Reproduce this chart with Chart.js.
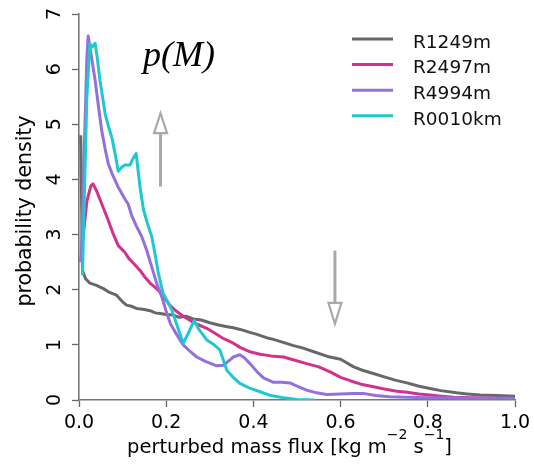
<!DOCTYPE html>
<html>
<head>
<meta charset="utf-8">
<script src="https://cdn.jsdelivr.net/npm/chart.js@4/dist/chart.umd.min.js"></script>
<style>
  body { margin: 0; background: #fff; }
  #wrap { width: 534px; height: 464px; }
</style>
</head>
<body>
<div id="wrap"><canvas id="pdf" width="534" height="464"></canvas></div>
<script>
const seriesNames = ["R1249m", "R2497m", "R4994m", "R0010km"];
const seriesColors = ["#686868", "#d4318f", "#9370db", "#1fc8cf"];

const xTickValues = [0, 0.2, 0.4, 0.6, 0.8, 1.0];
const yTickValues = [0, 1, 2, 3, 4, 5, 6, 7];

const r1249x = [0.004, 0.008, 0.015, 0.025, 0.04, 0.056, 0.07, 0.086, 0.1, 0.109, 0.12, 0.132, 0.15, 0.163, 0.175, 0.186, 0.2, 0.216, 0.23, 0.245, 0.262, 0.28, 0.3, 0.32, 0.34, 0.354, 0.37, 0.39, 0.408, 0.43, 0.446, 0.47, 0.49, 0.514, 0.54, 0.57, 0.6, 0.63, 0.65, 0.675, 0.7, 0.725, 0.752, 0.78, 0.805, 0.83, 0.866, 0.89, 0.92, 0.96, 1.0];
const r1249y = [4.8, 2.35, 2.2, 2.12, 2.08, 2.02, 1.95, 1.9, 1.78, 1.72, 1.7, 1.66, 1.64, 1.62, 1.58, 1.57, 1.55, 1.54, 1.5, 1.52, 1.47, 1.45, 1.4, 1.36, 1.33, 1.31, 1.28, 1.23, 1.19, 1.13, 1.1, 1.04, 0.99, 0.94, 0.87, 0.79, 0.74, 0.6, 0.54, 0.48, 0.42, 0.36, 0.31, 0.25, 0.21, 0.17, 0.13, 0.11, 0.09, 0.08, 0.07];

const r2497x = [0.004, 0.01, 0.018, 0.027, 0.032, 0.04, 0.052, 0.06, 0.067, 0.078, 0.09, 0.105, 0.115, 0.125, 0.14, 0.151, 0.163, 0.172, 0.182, 0.195, 0.209, 0.225, 0.239, 0.26, 0.275, 0.293, 0.31, 0.33, 0.354, 0.37, 0.39, 0.415, 0.44, 0.469, 0.495, 0.522, 0.55, 0.576, 0.6, 0.622, 0.65, 0.675, 0.7, 0.729, 0.752, 0.78, 0.805, 0.83, 0.86, 0.9, 0.95, 1.0];
const r2497y = [2.5, 3.0, 3.6, 3.88, 3.92, 3.8, 3.56, 3.4, 3.26, 3.02, 2.8, 2.68, 2.56, 2.48, 2.35, 2.23, 2.12, 2.06, 1.99, 1.86, 1.71, 1.6, 1.52, 1.42, 1.36, 1.3, 1.22, 1.12, 1.03, 0.95, 0.88, 0.83, 0.8, 0.78, 0.72, 0.66, 0.6, 0.51, 0.41, 0.35, 0.28, 0.24, 0.2, 0.16, 0.14, 0.11, 0.09, 0.07, 0.05, 0.04, 0.03, 0.02];

const r4994x = [0.005, 0.012, 0.018, 0.021, 0.028, 0.037, 0.045, 0.052, 0.06, 0.067, 0.075, 0.09, 0.105, 0.113, 0.121, 0.132, 0.144, 0.155, 0.167, 0.178, 0.19, 0.201, 0.21, 0.22, 0.239, 0.255, 0.27, 0.29, 0.316, 0.331, 0.345, 0.354, 0.369, 0.38, 0.392, 0.41, 0.423, 0.446, 0.465, 0.484, 0.5, 0.522, 0.545, 0.568, 0.6, 0.63, 0.652, 0.68, 0.713, 0.75, 0.8, 0.85, 0.9, 0.95, 1.0];
const r4994y = [2.5, 4.5, 6.2, 6.6, 6.25, 5.8, 5.3, 4.89, 4.55, 4.29, 4.12, 3.86, 3.65, 3.55, 3.34, 3.15, 2.96, 2.72, 2.41, 2.12, 1.87, 1.58, 1.38, 1.24, 1.0, 0.88, 0.78, 0.7, 0.62, 0.63, 0.72, 0.78, 0.82, 0.76, 0.66, 0.5, 0.4, 0.32, 0.32, 0.31, 0.25, 0.18, 0.13, 0.1, 0.11, 0.12, 0.12, 0.08, 0.06, 0.05, 0.04, 0.04, 0.03, 0.03, 0.03];

const r0010x = [0.008, 0.012, 0.018, 0.025, 0.03, 0.037, 0.042, 0.048, 0.055, 0.06, 0.068, 0.075, 0.082, 0.09, 0.098, 0.105, 0.117, 0.124, 0.131, 0.14, 0.148, 0.157, 0.167, 0.175, 0.182, 0.193, 0.202, 0.213, 0.225, 0.239, 0.25, 0.264, 0.275, 0.293, 0.31, 0.323, 0.339, 0.355, 0.369, 0.39, 0.415, 0.44, 0.469, 0.5, 0.54];
const r0010y = [2.26, 3.6, 5.5, 6.46, 6.4, 6.47, 6.2, 5.8, 5.45, 5.19, 4.95, 4.77, 4.5, 4.15, 4.22, 4.26, 4.26, 4.38, 4.47, 3.86, 3.45, 3.2, 2.96, 2.62, 2.3, 1.93, 1.8, 1.63, 1.35, 1.03, 1.2, 1.44, 1.28, 1.09, 1.0, 0.91, 0.54, 0.4, 0.3, 0.22, 0.15, 0.08, 0.04, 0.01, 0.0];

const seriesX = [r1249x, r2497x, r4994x, r0010x];
const seriesY = [r1249y, r2497y, r4994y, r0010y];

function pts(xs, ys) {
  return xs.map((x, i) => ({ x: x, y: ys[i] }));
}

// arrows in data units: [x, yStart, yHeadBase, yTip]
const upArrow = [0.187, 3.87, 4.84, 5.2];
const downArrow = [0.587, 2.71, 1.76, 1.38];

function drawArrow(ctx, xs, ys, a) {
  const x = xs.getPixelForValue(a[0]);
  const y0 = ys.getPixelForValue(a[1]);
  const yb = ys.getPixelForValue(a[2]);
  const yt = ys.getPixelForValue(a[3]);
  ctx.strokeStyle = "#a9a9a9";
  ctx.lineWidth = 3;
  ctx.beginPath();
  ctx.moveTo(x, y0);
  ctx.lineTo(x, yb);
  ctx.stroke();
  ctx.lineWidth = 2.2;
  ctx.fillStyle = "#fff";
  ctx.beginPath();
  ctx.moveTo(x - 6.5, yb);
  ctx.lineTo(x + 6.5, yb);
  ctx.lineTo(x, yt);
  ctx.closePath();
  ctx.fill();
  ctx.stroke();
}

const decor = {
  id: "decor",
  afterDraw(chart) {
    const ctx = chart.ctx;
    const xs = chart.scales.x;
    const ys = chart.scales.y;
    ctx.save();
    ctx.fillStyle = "#000";

    // tick labels
    ctx.font = '19px "DejaVu Sans"';
    ctx.textAlign = "center";
    ctx.textBaseline = "alphabetic";
    xTickValues.forEach(v => {
      ctx.fillText(v.toFixed(1), xs.getPixelForValue(v), 428);
    });
    yTickValues.forEach(v => {
      ctx.save();
      ctx.translate(60, ys.getPixelForValue(v));
      ctx.rotate(-Math.PI / 2);
      ctx.fillText(String(v), 0, 0);
      ctx.restore();
    });

    // y title
    ctx.save();
    ctx.font = '20.5px "DejaVu Sans"';
    ctx.translate(30.5, 211);
    ctx.rotate(-Math.PI / 2);
    ctx.fillText("probability density", 0, 0);
    ctx.restore();

    // x title with superscripts
    const parts = [
      ["perturbed mass flux [kg m", 0],
      ["\u22122", 1],
      [" s", 0],
      ["\u22121", 1],
      ["]", 0]
    ];
    const mainFont = '19.5px "DejaVu Sans"';
    const supFont = '14px "DejaVu Sans"';
    let total = 0;
    parts.forEach(p => {
      ctx.font = p[1] ? supFont : mainFont;
      total += ctx.measureText(p[0]).width;
    });
    let cx = 289.5 - total / 2;
    ctx.textAlign = "left";
    parts.forEach(p => {
      ctx.font = p[1] ? supFont : mainFont;
      ctx.fillText(p[0], cx, p[1] ? 439 : 453);
      cx += ctx.measureText(p[0]).width;
    });

    // legend
    ctx.font = '18.5px "DejaVu Sans"';
    chart.data.datasets.forEach((ds, i) => {
      const y = 39 + i * 25.6;
      ctx.strokeStyle = ds.borderColor;
      ctx.lineWidth = 3;
      ctx.beginPath();
      ctx.moveTo(352, y);
      ctx.lineTo(393, y);
      ctx.stroke();
      ctx.fillStyle = "#111";
      ctx.fillText(ds.label, 413, y + 8.7);
    });

    // p(M)
    ctx.fillStyle = "#000";
    ctx.font = 'italic 36px "Liberation Serif"';
    ctx.fillText("p(M)", 143, 66);

    drawArrow(ctx, xs, ys, upArrow);
    drawArrow(ctx, xs, ys, downArrow);
    ctx.restore();
  }
};

const axisGrid = {
  drawOnChartArea: false,
  drawTicks: true,
  tickLength: 7,
  tickColor: "#666",
  tickWidth: 1.3
};

new Chart(document.getElementById("pdf").getContext("2d"), {
  type: "line",
  data: {
    datasets: seriesNames.map((name, i) => ({
      label: name,
      data: pts(seriesX[i], seriesY[i]),
      borderColor: seriesColors[i],
      backgroundColor: seriesColors[i],
      borderWidth: 3,
      pointRadius: 0,
      tension: 0,
      borderJoinStyle: "round",
      order: seriesNames.length - i
    }))
  },
  options: {
    responsive: false,
    animation: false,
    events: [],
    layout: { padding: { left: 0, right: 19, top: 14, bottom: 0 } },
    plugins: { legend: { display: false }, tooltip: { enabled: false } },
    scales: {
      x: {
        type: "linear",
        min: 0,
        max: 1,
        ticks: { stepSize: 0.2, display: false },
        grid: axisGrid,
        border: { display: true, color: "#777", width: 1.6 },
        afterFit: s => { s.height = 64; }
      },
      y: {
        min: 0,
        max: 7,
        ticks: { stepSize: 1, display: false },
        grid: axisGrid,
        border: { display: true, color: "#777", width: 1.6 },
        afterFit: s => { s.width = 79; }
      }
    }
  },
  plugins: [decor]
});
</script>
</body>
</html>
